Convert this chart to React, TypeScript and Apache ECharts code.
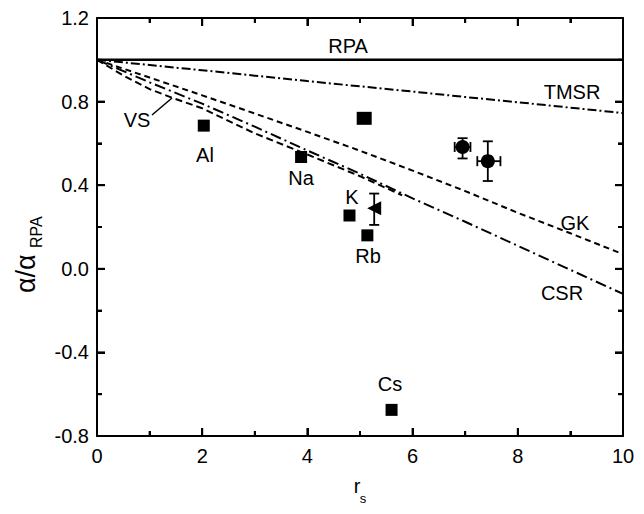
import React, { useEffect, useRef } from "react";
import * as echarts from "echarts";

// Theory curves (r_s grid and alpha/alpha_RPA)
const rsGrid = [0, 1, 2, 3, 4, 5, 6, 7, 8, 9, 10];
const rpaValues = [1, 1, 1, 1, 1, 1, 1, 1, 1, 1, 1];
const tmsrValues = [1, 0.975, 0.95, 0.924, 0.898, 0.873, 0.848, 0.822, 0.797, 0.771, 0.745];
const gkValues = [1, 0.915, 0.83, 0.743, 0.655, 0.565, 0.47, 0.372, 0.268, 0.17, 0.07];
const csrValues = [1, 0.892, 0.79, 0.68, 0.566, 0.455, 0.337, 0.225, 0.11, -0.005, -0.12];
const vsRs = [0, 0.5, 1, 1.43, 2, 3, 4, 5, 5.8];
const vsValues = [1, 0.925, 0.86, 0.818, 0.768, 0.648, 0.547, 0.443, 0.352];

// Experimental points
const elemRs = [2.03, 3.88, 4.8, 5.14, 5.6];
const elemAlpha = [0.685, 0.535, 0.255, 0.16, -0.675];
const errSquare = [[5.08, 0.72]];
const triPoint = [[5.27, 0.29]];
const circlePoints = [[6.95, 0.583], [7.43, 0.515]];
// [x, y, xLow, xHigh, yLow, yHigh]
const errorBars = [
  [6.95, 0.583, 6.8, 7.1, 0.528, 0.625],
  [7.43, 0.515, 7.23, 7.67, 0.42, 0.61],
  [5.27, 0.29, 5.27, 5.27, 0.21, 0.36],
];

// Tick values
const xTicks = [0, 2, 4, 6, 8, 10];
const xMinorTicks = [1, 3, 5, 7, 9];
const yTicks = [-0.8, -0.4, 0.0, 0.4, 0.8, 1.2];
const yMinorTicks = [-0.6, -0.2, 0.2, 0.6, 1.0];

const X_MIN = 0, X_MAX = 10, Y_MIN = -0.8, Y_MAX = 1.2;

const FONT = "Arial, 'Liberation Sans', sans-serif";

function makeAxis(extra: any) {
  return {
    type: "value",
    axisLine: { show: true, onZero: false, lineStyle: { color: "#000", width: 2 } },
    axisTick: { show: true, inside: true, length: 8, lineStyle: { color: "#000", width: 2 } },
    minorTick: { show: true, splitNumber: 2, length: 5, lineStyle: { color: "#000", width: 2 } },
    splitLine: { show: false },
    ...extra,
  };
}

export default function App() {
  const ref = useRef<HTMLDivElement>(null);
  useEffect(() => {
    if (!ref.current) return;
    const chart = echarts.init(ref.current, undefined, { renderer: "svg" });
    const pair = (xs: number[], ys: number[]) => xs.map((x, i) => [x, ys[i]]);

    const texts: any[] = [
      { x: 348, y: 46, t: "RPA" },
      { x: 572, y: 92, t: "TMSR" },
      { x: 575, y: 223, t: "GK" },
      { x: 562, y: 293, t: "CSR" },
      { x: 137, y: 120, t: "VS" },
      { x: 205, y: 155, t: "Al" },
      { x: 301, y: 178, t: "Na" },
      { x: 352, y: 197, t: "K" },
      { x: 368, y: 256, t: "Rb" },
      { x: 390, y: 384, t: "Cs" },
    ].map((o) => ({
      type: "text",
      x: o.x,
      y: o.y,
      style: { text: o.t, fill: "#000", font: `20px ${FONT}`, textAlign: "center", textVerticalAlign: "middle" },
    }));

    const blackPt = { color: "#000", opacity: 1 };

    chart.setOption({
      animation: false,
      grid: { left: 97, right: 21, top: 18, bottom: 78 },
      xAxis: [
        makeAxis({
          min: X_MIN,
          max: X_MAX,
          interval: 2,
          position: "bottom",
          axisLabel: { show: true, color: "#000", fontSize: 20, fontFamily: FONT, margin: 10,
            formatter: (v: number) => (xTicks.includes(v) ? String(v) : "") },
        }),
        makeAxis({
          min: X_MIN,
          max: X_MAX,
          interval: 2,
          position: "top",
          axisLabel: { show: false },
        }),
      ],
      yAxis: [
        makeAxis({
          min: Y_MIN,
          max: Y_MAX,
          interval: 0.4,
          position: "left",
          axisLabel: { show: true, color: "#000", fontSize: 20, fontFamily: FONT, margin: 8,
            formatter: (v: number) => {
              const r = Math.round(v * 10) / 10;
              return yTicks.some((t) => Math.abs(t - r) < 1e-6) ? r.toFixed(1) : "";
            } },
        }),
        makeAxis({
          min: Y_MIN,
          max: Y_MAX,
          interval: 0.4,
          position: "right",
          axisLabel: { show: false },
        }),
      ],
      series: [
        {
          type: "custom",
          name: "ticks",
          data: [[X_MIN, Y_MIN]],
          encode: { x: 0, y: 1 },
          renderItem: (params: any, api: any) => {
            const st = { stroke: "#000", lineWidth: 2 };
            const ch: any[] = [];
            const addX = (vals: number[], len: number) => {
              vals.forEach((v) => {
                const b = api.coord([v, Y_MIN]);
                const t = api.coord([v, Y_MAX]);
                ch.push({ type: "line", shape: { x1: b[0], y1: b[1], x2: b[0], y2: b[1] - len }, style: st });
                ch.push({ type: "line", shape: { x1: t[0], y1: t[1], x2: t[0], y2: t[1] + len }, style: st });
              });
            };
            const addY = (vals: number[], len: number) => {
              vals.forEach((v) => {
                const l = api.coord([X_MIN, v]);
                const r = api.coord([X_MAX, v]);
                ch.push({ type: "line", shape: { x1: l[0], y1: l[1], x2: l[0] + len, y2: l[1] }, style: st });
                ch.push({ type: "line", shape: { x1: r[0], y1: r[1], x2: r[0] - len, y2: r[1] }, style: st });
              });
            };
            addX(xTicks, 8);
            addX(xMinorTicks, 5);
            addY(yTicks, 8);
            addY(yMinorTicks, 5);
            return { type: "group", children: ch };
          },
          z: 10,
        },
        { type: "line", name: "RPA", data: pair(rsGrid, rpaValues), showSymbol: false, symbol: "none",
          lineStyle: { color: "#000", width: 2.4 } },
        { type: "line", name: "TMSR", data: pair(rsGrid, tmsrValues), showSymbol: false, symbol: "none",
          lineStyle: { color: "#000", width: 2, type: [9, 3, 2, 3] } },
        { type: "line", name: "GK", data: pair(rsGrid, gkValues), showSymbol: false, symbol: "none",
          lineStyle: { color: "#000", width: 2, type: [6, 4] } },
        { type: "line", name: "CSR", data: pair(rsGrid, csrValues), showSymbol: false, symbol: "none",
          lineStyle: { color: "#000", width: 2, type: [11, 4, 2, 4] } },
        { type: "line", name: "VS", data: pair(vsRs, vsValues), showSymbol: false, symbol: "none",
          lineStyle: { color: "#000", width: 2, type: [7, 4] } },
        {
          type: "custom",
          name: "errors",
          data: errorBars,
          encode: { x: 0, y: 1 },
          renderItem: (params: any, api: any) => {
            const x = api.value(0), y = api.value(1);
            const xl = api.value(2), xh = api.value(3), yl = api.value(4), yh = api.value(5);
            const st = { stroke: "#000", lineWidth: 1.8 };
            const cap = 5;
            const ch: any[] = [];
            const pL = api.coord([x, yl]), pH = api.coord([x, yh]);
            if (yh > yl) {
              ch.push({ type: "line", shape: { x1: pL[0], y1: pL[1], x2: pH[0], y2: pH[1] }, style: st });
              ch.push({ type: "line", shape: { x1: pL[0] - cap, y1: pL[1], x2: pL[0] + cap, y2: pL[1] }, style: st });
              ch.push({ type: "line", shape: { x1: pH[0] - cap, y1: pH[1], x2: pH[0] + cap, y2: pH[1] }, style: st });
            }
            if (xh > xl) {
              const qL = api.coord([xl, y]), qH = api.coord([xh, y]);
              ch.push({ type: "line", shape: { x1: qL[0], y1: qL[1], x2: qH[0], y2: qH[1] }, style: st });
              ch.push({ type: "line", shape: { x1: qL[0], y1: qL[1] - cap, x2: qL[0], y2: qL[1] + cap }, style: st });
              ch.push({ type: "line", shape: { x1: qH[0], y1: qH[1] - cap, x2: qH[0], y2: qH[1] + cap }, style: st });
            }
            return { type: "group", children: ch };
          },
          z: 3,
        },
        { type: "scatter", name: "elements", data: pair(elemRs, elemAlpha), symbol: "rect", symbolSize: 12,
          itemStyle: blackPt, z: 4 },
        { type: "scatter", name: "errsq", data: errSquare, symbol: "rect", symbolSize: [15, 13],
          itemStyle: blackPt, z: 4 },
        { type: "scatter", name: "tri", data: triPoint, symbol: "triangle", symbolRotate: 90, symbolSize: 14,
          itemStyle: blackPt, z: 4 },
        { type: "scatter", name: "circles", data: circlePoints, symbol: "circle", symbolSize: 14,
          itemStyle: blackPt, z: 4 },
      ],
      graphic: [
        ...texts,
        { type: "line", shape: { x1: 152, y1: 115, x2: 172, y2: 98 }, style: { stroke: "#000", lineWidth: 1.5 } },
        {
          type: "group",
          x: 26,
          y: 293,
          rotation: Math.PI / 2,
          children: [
            { type: "text", x: 0, y: 0, style: { text: "α/α", fill: "#000", font: `27px ${FONT}`, textAlign: "left", textVerticalAlign: "middle" } },
            { type: "text", x: 45, y: 10, style: { text: "RPA", fill: "#000", font: `16px ${FONT}`, textAlign: "left", textVerticalAlign: "middle" } },
          ],
        },
        { type: "text", x: 357, y: 486, style: { text: "r", fill: "#000", font: `20px ${FONT}`, textAlign: "center", textVerticalAlign: "middle" } },
        { type: "text", x: 363, y: 498, style: { text: "s", fill: "#000", font: `13px ${FONT}`, textAlign: "center", textVerticalAlign: "middle" } },
      ],
    });
    return () => chart.dispose();
  }, []);
  return <div ref={ref} style={{ width: 644, height: 514, margin: -8 }} />;
}
